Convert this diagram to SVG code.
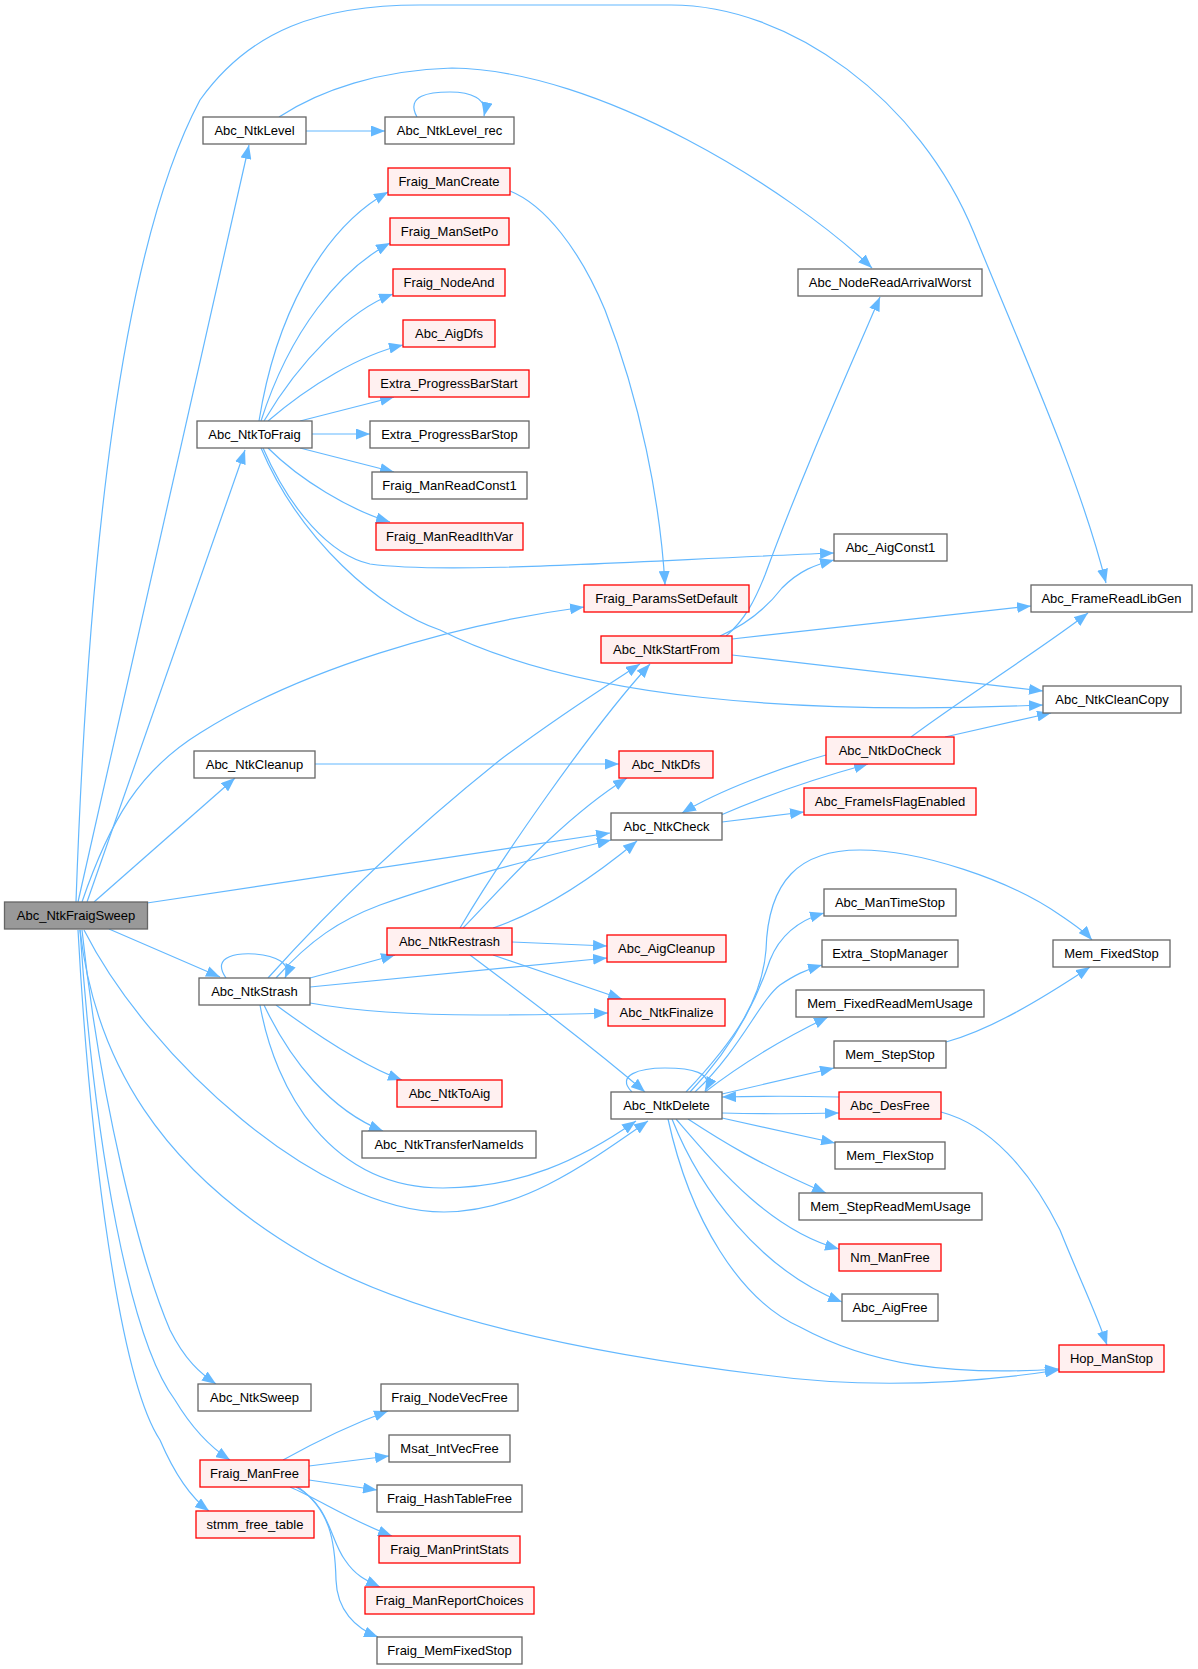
<svg xmlns="http://www.w3.org/2000/svg" width="1198" height="1669" viewBox="0 0 1198 1669">
<style>
.e{fill:none;stroke:#63b8ff;stroke-width:1.2;marker-end:url(#ah)}
.node rect{fill:#fff;stroke:#666;stroke-width:1.3}
.node.red rect{fill:#fff0f0;stroke:#f00}
.node.root rect{fill:#999;stroke:#666}
.node text{font-family:"Liberation Sans",Arial,sans-serif;font-size:13px;fill:#000;text-anchor:middle}
</style>
<defs>
<marker id="ah" markerUnits="userSpaceOnUse" markerWidth="14" markerHeight="11" refX="14" refY="5.5" orient="auto" viewBox="0 0 14 11">
<path d="M0,0 L14,5.5 L0,11 z" fill="#63b8ff"/>
</marker>
</defs>
<rect width="1198" height="1669" fill="#fff"/>
<g id="edges">
<path class="e" d="M76,902 C88,560 120,250 200,100 C250,30 320,5 420,5 L671,5 C790,5 920,100 974,233 C1030,370 1080,480 1106,583"/>
<path class="e" d="M78,902 L249,145"/>
<path class="e" d="M87,902 L245,450"/>
<path class="e" d="M82,902 C110,820 140,770 200,733 C300,670 450,625 584,607"/>
<path class="e" d="M94,902 L235,778"/>
<path class="e" d="M147,903 L610,833"/>
<path class="e" d="M109,929 L220,977"/>
<path class="e" d="M84,930 C150,1060 320,1212 444,1212 C520,1212 585,1165 648,1121"/>
<path class="e" d="M80,930 C95,1060 160,1170 306,1255 C400,1310 560,1350 764,1375 C860,1388 960,1385 1059,1370"/>
<path class="e" d="M82,930 C100,1100 140,1260 170,1330 C185,1360 200,1373 216,1384"/>
<path class="e" d="M80,930 C95,1150 130,1340 175,1400 C190,1425 210,1447 230,1460"/>
<path class="e" d="M78,930 C90,1150 120,1380 160,1440 C175,1475 190,1497 209,1511"/>
<path class="e" d="M306,131 L385,131"/>
<path class="e" d="M279,117 C320,90 380,70 452,68 C600,70 790,190 872,268"/>
<path class="e" d="M417,117 C405,95 430,92 450,92 C470,92 488,98 484,116"/>
<path class="e" d="M259,421 C275,320 320,230 388,192"/>
<path class="e" d="M261,421 C290,330 340,270 390,243"/>
<path class="e" d="M264,421 C300,360 350,310 393,294"/>
<path class="e" d="M268,421 C310,385 360,355 403,345"/>
<path class="e" d="M300,421 L394,397"/>
<path class="e" d="M312,434 L370,434"/>
<path class="e" d="M300,448 L394,472"/>
<path class="e" d="M268,448 C300,480 350,510 390,522"/>
<path class="e" d="M263,448 C290,510 330,555 370,564 C450,575 650,560 834,553"/>
<path class="e" d="M261,448 C300,540 380,610 440,630 C580,700 800,715 1043,705"/>
<path class="e" d="M510,191 C545,205 580,250 605,310 C640,400 660,500 665,585"/>
<path class="e" d="M726,636 C745,620 755,600 765,575 C800,480 840,390 880,297"/>
<path class="e" d="M720,636 C745,625 765,610 782,588 C800,570 815,565 834,560"/>
<path class="e" d="M732,639 L1031,606"/>
<path class="e" d="M732,655 L1043,691"/>
<path class="e" d="M911,737 C960,700 1040,650 1088,613"/>
<path class="e" d="M945,737 L1051,713"/>
<path class="e" d="M826,755 C780,768 720,790 682,813"/>
<path class="e" d="M721,815 C760,798 810,780 868,764"/>
<path class="e" d="M722,822 L804,812"/>
<path class="e" d="M315,764 L619,764"/>
<path class="e" d="M226,978 C210,955 240,953 255,954 C275,956 292,962 285,978"/>
<path class="e" d="M268,978 C320,920 400,840 500,760 C560,715 600,690 640,664"/>
<path class="e" d="M276,978 C310,940 340,920 380,905 C450,880 530,860 611,840"/>
<path class="e" d="M310,978 L395,955"/>
<path class="e" d="M310,987 L607,958"/>
<path class="e" d="M310,1003 C360,1012 420,1015 480,1015 C540,1015 580,1014 608,1013"/>
<path class="e" d="M276,1005 C310,1030 360,1065 402,1080"/>
<path class="e" d="M264,1005 C290,1060 330,1110 383,1131"/>
<path class="e" d="M260,1005 C275,1090 330,1188 443,1188 C520,1188 580,1160 636,1121"/>
<path class="e" d="M460,928 C500,860 590,730 650,664"/>
<path class="e" d="M463,928 C500,890 560,820 627,778"/>
<path class="e" d="M493,928 C540,912 590,880 637,841"/>
<path class="e" d="M512,942 L607,946"/>
<path class="e" d="M493,955 L622,999"/>
<path class="e" d="M470,955 C530,1000 590,1045 645,1092"/>
<path class="e" d="M632,1092 C615,1075 640,1068 665,1068 C690,1068 715,1072 705,1091"/>
<path class="e" d="M686,1092 C735,1040 762,1000 766,950 C768,880 800,850 860,850 C920,850 1010,880 1060,915 C1075,925 1085,932 1092,940"/>
<path class="e" d="M690,1092 C740,1040 760,990 770,960 C780,935 800,920 824,913"/>
<path class="e" d="M695,1092 C740,1050 760,1000 780,985 C795,975 805,970 822,965"/>
<path class="e" d="M705,1092 C740,1065 780,1040 828,1017"/>
<path class="e" d="M722,1094 L834,1068"/>
<path class="e" d="M722,1113 C760,1114 800,1114 839,1113"/>
<path class="e" d="M839,1097 C800,1096 760,1096 722,1097"/>
<path class="e" d="M722,1118 L835,1143"/>
<path class="e" d="M688,1119 C720,1140 760,1165 826,1193"/>
<path class="e" d="M676,1119 C720,1170 770,1230 839,1249"/>
<path class="e" d="M672,1119 C700,1190 760,1270 842,1302"/>
<path class="e" d="M668,1119 C690,1220 740,1300 800,1327 C870,1365 950,1376 1059,1369"/>
<path class="e" d="M941,1112 C990,1125 1030,1170 1060,1230 C1080,1280 1095,1310 1107,1345"/>
<path class="e" d="M946,1042 C990,1030 1040,1000 1090,967"/>
<path class="e" d="M283,1460 C310,1445 350,1425 388,1411"/>
<path class="e" d="M309,1466 L389,1456"/>
<path class="e" d="M309,1480 L377,1490"/>
<path class="e" d="M290,1487 C320,1500 350,1520 392,1536"/>
<path class="e" d="M296,1487 C330,1505 330,1540 345,1560 C355,1575 365,1580 380,1587"/>
<path class="e" d="M298,1487 C330,1510 335,1540 336,1580 C337,1610 355,1628 378,1637"/>
</g>
<g id="n_Abc_NtkFraigSweep" class="node root"><rect x="4.5" y="902" width="143" height="27"/><text x="76" y="920">Abc_NtkFraigSweep</text></g>
<g id="n_Abc_NtkLevel" class="node"><rect x="203" y="117" width="103" height="27"/><text x="254.5" y="135">Abc_NtkLevel</text></g>
<g id="n_Abc_NtkLevel_rec" class="node"><rect x="385" y="117" width="129" height="27"/><text x="449.5" y="135">Abc_NtkLevel_rec</text></g>
<g id="n_Fraig_ManCreate" class="node red"><rect x="388" y="168" width="122" height="27"/><text x="449" y="186">Fraig_ManCreate</text></g>
<g id="n_Fraig_ManSetPo" class="node red"><rect x="390" y="218" width="119" height="27"/><text x="449.5" y="236">Fraig_ManSetPo</text></g>
<g id="n_Fraig_NodeAnd" class="node red"><rect x="393" y="269" width="112" height="27"/><text x="449" y="287">Fraig_NodeAnd</text></g>
<g id="n_Abc_AigDfs" class="node red"><rect x="403" y="320" width="92" height="27"/><text x="449" y="338">Abc_AigDfs</text></g>
<g id="n_Extra_ProgressBarStart" class="node red"><rect x="369" y="370" width="160" height="27"/><text x="449" y="388">Extra_ProgressBarStart</text></g>
<g id="n_Abc_NtkToFraig" class="node"><rect x="197" y="421" width="115" height="27"/><text x="254.5" y="439">Abc_NtkToFraig</text></g>
<g id="n_Extra_ProgressBarStop" class="node"><rect x="370" y="421" width="159" height="27"/><text x="449.5" y="439">Extra_ProgressBarStop</text></g>
<g id="n_Fraig_ManReadConst1" class="node"><rect x="372" y="472" width="155" height="27"/><text x="449.5" y="490">Fraig_ManReadConst1</text></g>
<g id="n_Fraig_ManReadIthVar" class="node red"><rect x="376" y="523" width="147" height="27"/><text x="449.5" y="541">Fraig_ManReadIthVar</text></g>
<g id="n_Abc_NodeReadArrivalWorst" class="node"><rect x="798" y="269" width="184" height="27"/><text x="890" y="287">Abc_NodeReadArrivalWorst</text></g>
<g id="n_Abc_AigConst1" class="node"><rect x="834" y="534" width="113" height="27"/><text x="890.5" y="552">Abc_AigConst1</text></g>
<g id="n_Fraig_ParamsSetDefault" class="node red"><rect x="584" y="585" width="165" height="27"/><text x="666.5" y="603">Fraig_ParamsSetDefault</text></g>
<g id="n_Abc_FrameReadLibGen" class="node"><rect x="1031" y="585" width="161" height="27"/><text x="1111.5" y="603">Abc_FrameReadLibGen</text></g>
<g id="n_Abc_NtkStartFrom" class="node red"><rect x="601" y="636" width="131" height="27"/><text x="666.5" y="654">Abc_NtkStartFrom</text></g>
<g id="n_Abc_NtkCleanCopy" class="node"><rect x="1043" y="686" width="138" height="27"/><text x="1112" y="704">Abc_NtkCleanCopy</text></g>
<g id="n_Abc_NtkDoCheck" class="node red"><rect x="826" y="737" width="128" height="27"/><text x="890" y="755">Abc_NtkDoCheck</text></g>
<g id="n_Abc_NtkCleanup" class="node"><rect x="194" y="751" width="121" height="27"/><text x="254.5" y="769">Abc_NtkCleanup</text></g>
<g id="n_Abc_NtkDfs" class="node red"><rect x="619" y="751" width="94" height="27"/><text x="666" y="769">Abc_NtkDfs</text></g>
<g id="n_Abc_FrameIsFlagEnabled" class="node red"><rect x="804" y="788" width="172" height="27"/><text x="890" y="806">Abc_FrameIsFlagEnabled</text></g>
<g id="n_Abc_NtkCheck" class="node"><rect x="611" y="813" width="111" height="27"/><text x="666.5" y="831">Abc_NtkCheck</text></g>
<g id="n_Abc_ManTimeStop" class="node"><rect x="824" y="889" width="132" height="27"/><text x="890" y="907">Abc_ManTimeStop</text></g>
<g id="n_Abc_NtkRestrash" class="node red"><rect x="387" y="928" width="125" height="27"/><text x="449.5" y="946">Abc_NtkRestrash</text></g>
<g id="n_Abc_AigCleanup" class="node red"><rect x="607" y="935" width="119" height="27"/><text x="666.5" y="953">Abc_AigCleanup</text></g>
<g id="n_Extra_StopManager" class="node"><rect x="822" y="940" width="136" height="27"/><text x="890" y="958">Extra_StopManager</text></g>
<g id="n_Mem_FixedStop" class="node"><rect x="1053" y="940" width="117" height="27"/><text x="1111.5" y="958">Mem_FixedStop</text></g>
<g id="n_Abc_NtkStrash" class="node"><rect x="199" y="978" width="111" height="27"/><text x="254.5" y="996">Abc_NtkStrash</text></g>
<g id="n_Mem_FixedReadMemUsage" class="node"><rect x="796" y="990" width="188" height="27"/><text x="890" y="1008">Mem_FixedReadMemUsage</text></g>
<g id="n_Abc_NtkFinalize" class="node red"><rect x="608" y="999" width="117" height="27"/><text x="666.5" y="1017">Abc_NtkFinalize</text></g>
<g id="n_Mem_StepStop" class="node"><rect x="834" y="1041" width="112" height="27"/><text x="890" y="1059">Mem_StepStop</text></g>
<g id="n_Abc_NtkToAig" class="node red"><rect x="397" y="1080" width="105" height="27"/><text x="449.5" y="1098">Abc_NtkToAig</text></g>
<g id="n_Abc_NtkDelete" class="node"><rect x="611" y="1092" width="111" height="27"/><text x="666.5" y="1110">Abc_NtkDelete</text></g>
<g id="n_Abc_DesFree" class="node red"><rect x="839" y="1092" width="102" height="27"/><text x="890" y="1110">Abc_DesFree</text></g>
<g id="n_Abc_NtkTransferNameIds" class="node"><rect x="362" y="1131" width="174" height="27"/><text x="449" y="1149">Abc_NtkTransferNameIds</text></g>
<g id="n_Mem_FlexStop" class="node"><rect x="835" y="1142" width="110" height="27"/><text x="890" y="1160">Mem_FlexStop</text></g>
<g id="n_Mem_StepReadMemUsage" class="node"><rect x="799" y="1193" width="183" height="27"/><text x="890.5" y="1211">Mem_StepReadMemUsage</text></g>
<g id="n_Nm_ManFree" class="node red"><rect x="839" y="1244" width="102" height="27"/><text x="890" y="1262">Nm_ManFree</text></g>
<g id="n_Abc_AigFree" class="node"><rect x="842" y="1294" width="96" height="27"/><text x="890" y="1312">Abc_AigFree</text></g>
<g id="n_Hop_ManStop" class="node red"><rect x="1059" y="1345" width="105" height="27"/><text x="1111.5" y="1363">Hop_ManStop</text></g>
<g id="n_Abc_NtkSweep" class="node"><rect x="198" y="1384" width="113" height="27"/><text x="254.5" y="1402">Abc_NtkSweep</text></g>
<g id="n_Fraig_NodeVecFree" class="node"><rect x="381" y="1384" width="137" height="27"/><text x="449.5" y="1402">Fraig_NodeVecFree</text></g>
<g id="n_Msat_IntVecFree" class="node"><rect x="389" y="1435" width="121" height="27"/><text x="449.5" y="1453">Msat_IntVecFree</text></g>
<g id="n_Fraig_ManFree" class="node red"><rect x="200" y="1460" width="109" height="27"/><text x="254.5" y="1478">Fraig_ManFree</text></g>
<g id="n_Fraig_HashTableFree" class="node"><rect x="377" y="1485" width="145" height="27"/><text x="449.5" y="1503">Fraig_HashTableFree</text></g>
<g id="n_stmm_free_table" class="node red"><rect x="196" y="1511" width="118" height="27"/><text x="255" y="1529">stmm_free_table</text></g>
<g id="n_Fraig_ManPrintStats" class="node red"><rect x="379" y="1536" width="141" height="27"/><text x="449.5" y="1554">Fraig_ManPrintStats</text></g>
<g id="n_Fraig_ManReportChoices" class="node red"><rect x="365" y="1587" width="169" height="27"/><text x="449.5" y="1605">Fraig_ManReportChoices</text></g>
<g id="n_Fraig_MemFixedStop" class="node"><rect x="377" y="1637" width="145" height="27"/><text x="449.5" y="1655">Fraig_MemFixedStop</text></g>
</svg>
